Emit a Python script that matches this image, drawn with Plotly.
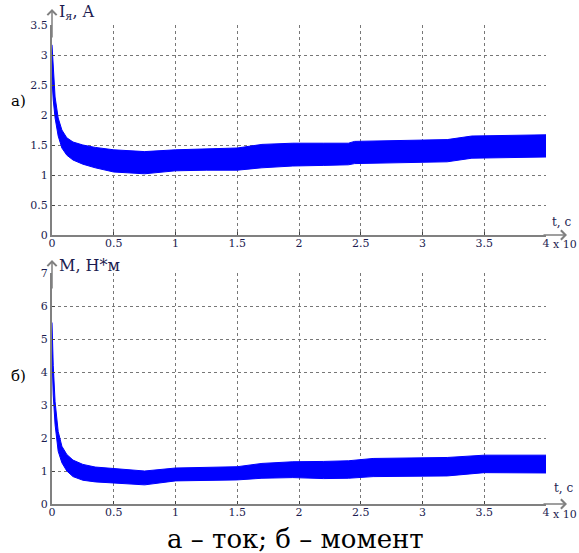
import plotly.graph_objects as go

# ---- data ----
t_cur = [0, 0.01, 0.025, 0.05, 0.08, 0.12, 0.17, 0.25, 0.35, 0.5, 0.75, 1.0, 1.25, 1.5, 1.7,
         1.95, 2.2, 2.4, 2.45, 2.7, 3.0, 3.2, 3.4, 3.6, 4.0]
cur_upper = [3.17, 2.75, 2.3, 1.95, 1.75, 1.62, 1.55, 1.5, 1.46, 1.42, 1.39, 1.42, 1.43, 1.45, 1.51,
             1.53, 1.53, 1.53, 1.56, 1.57, 1.58, 1.59, 1.65, 1.66, 1.67]
cur_lower = [2.6, 2.25, 1.95, 1.65, 1.45, 1.33, 1.25, 1.18, 1.12, 1.05, 1.02, 1.07, 1.08, 1.08, 1.12,
             1.15, 1.16, 1.17, 1.19, 1.2, 1.22, 1.22, 1.28, 1.29, 1.30]

t_mom = [0, 0.01, 0.025, 0.05, 0.08, 0.12, 0.17, 0.25, 0.35, 0.5, 0.75, 1.0, 1.25, 1.5, 1.7,
         1.95, 2.2, 2.4, 2.6, 3.0, 3.2, 3.5, 4.0]
mom_upper = [5.5, 4.2, 3.1, 2.2, 1.75, 1.5, 1.33, 1.2, 1.12, 1.08, 1.0, 1.09, 1.1, 1.13, 1.23,
             1.28, 1.29, 1.31, 1.38, 1.4, 1.41, 1.48, 1.48]
mom_lower = [4.5, 3.3, 2.4, 1.6, 1.25, 1.0, 0.83, 0.72, 0.67, 0.63, 0.58, 0.7, 0.72, 0.73, 0.78,
             0.8, 0.77, 0.78, 0.83, 0.84, 0.85, 0.95, 0.94]

W, H = 579, 553
def px(x):
    return x / W
def py(y):
    return 1 - y / H

BLUE = "#0000ff"
AXC = "#808080"
TXT = "#1c1c50"
FONT = "DejaVu Serif"

fig = go.Figure()
for t, up, lo, xa, ya in [(t_cur, cur_upper, cur_lower, "x", "y"),
                          (t_mom, mom_upper, mom_lower, "x2", "y2")]:
    fig.add_trace(go.Scatter(x=t, y=lo, mode="lines", line=dict(color=BLUE, width=1),
                             xaxis=xa, yaxis=ya, showlegend=False, hoverinfo="skip"))
    fig.add_trace(go.Scatter(x=t, y=up, mode="lines", line=dict(color=BLUE, width=1),
                             fill="tonexty", fillcolor=BLUE,
                             xaxis=xa, yaxis=ya, showlegend=False, hoverinfo="skip"))

axis_common = dict(showline=True, linecolor=AXC, linewidth=2, showgrid=True, gridcolor="#777777",
                   griddash="dot", gridwidth=1, zeroline=False, ticks="inside", ticklen=3,
                   tickcolor="#444", tickfont=dict(family=FONT, size=11, color=TXT))

xdom = [px(52), px(546)]
fig.update_layout(
    width=W, height=H, margin=dict(l=0, r=0, t=0, b=0, autoexpand=False),
    paper_bgcolor="white", plot_bgcolor="white",
    xaxis=dict(domain=xdom, anchor="y", range=[0, 4], dtick=0.5, ticklabelstandoff=-3, **axis_common),
    yaxis=dict(domain=[py(235), py(25)], anchor="x", range=[0, 3.5], dtick=0.5, **axis_common),
    xaxis2=dict(domain=xdom, anchor="y2", range=[0, 4], dtick=0.5, ticklabelstandoff=-3, **axis_common),
    yaxis2=dict(domain=[py(504), py(273)], anchor="x2", range=[0, 7], dtick=1, **axis_common),
)

# axis arrows
for (tx, ty, ax, ay) in [(52, 9, 0, 30), (567, 235, -25, 0), (52, 260, 0, 30), (567, 504, -25, 0)]:
    fig.add_annotation(x=px(tx), y=py(ty), xref="paper", yref="paper", text="", showarrow=True,
                       ax=ax, ay=ay, arrowhead=4, arrowsize=1.2, arrowwidth=1.5, arrowcolor=AXC,
                       standoff=0)

def txt(s, x, y, size, xanchor="left", yanchor="middle", color=TXT):
    fig.add_annotation(x=px(x), y=py(y), xref="paper", yref="paper", text=s, showarrow=False,
                       xanchor=xanchor, yanchor=yanchor, borderpad=0,
                       font=dict(family=FONT, size=size, color=color))

txt("I<sub>я</sub>, A", 58, 13, 16)
txt("М, Н*м", 58, 265, 16)
txt("t, c", 551, 222, 12)
txt("t, c", 553, 488, 12)
txt("x 10", 578, 245, 11, xanchor="right")
txt("x 10", 578, 514, 11, xanchor="right")
txt("а)", 10, 101, 15, color="black")
txt("б)", 10, 376, 15, color="black")
txt("а – ток; б – момент", 295, 539, 26, xanchor="center", color="black")

fig.write_html("out.html")
